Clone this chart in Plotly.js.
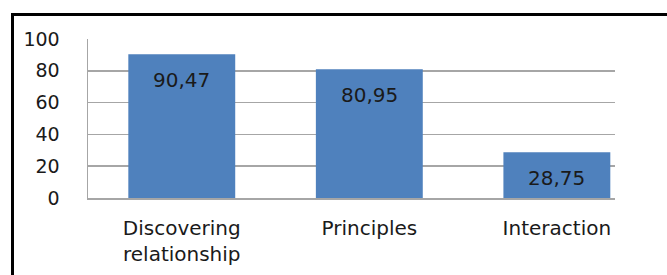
<!DOCTYPE html>
<html><head><meta charset="utf-8">
<script src="https://cdn.plot.ly/plotly-3.0.1.min.js"></script>
<style>
html,body{margin:0;padding:0;background:#fff;}
#chart{position:absolute;left:0;top:0;width:667px;height:275px;}
#frame{position:absolute;left:11px;top:13px;width:656px;height:262px;border-left:3px solid #000;border-top:3px solid #000;pointer-events:none;}
</style></head>
<body>
<div id="chart"></div>
<div id="frame"></div>
<script>
const categories = ["Discovering<br>relationship", "Principles", "Interaction"];
const values = [90.47, 80.95, 28.75];
const valueLabels = ["90,47", "80,95", "28,75"];
const yTicks = [0, 20, 40, 60, 80, 100];

const fontFam = "DejaVu Sans, sans-serif";
const trace = {
  type: "bar",
  x: [0, 1, 2],
  y: values,
  width: 0.57,
  marker: {color: "#4F81BD", line: {width: 0}},
  hoverinfo: "none"
};
const annotations = values.map((v, i) => ({
  x: i, y: v, xref: "x", yref: "y",
  text: valueLabels[i], showarrow: false,
  yanchor: "top", yshift: -12,
  font: {family: fontFam, size: 20, color: "#1a1a1a"}
}));
const layout = {
  width: 667, height: 275,
  margin: {l: 88, r: 52, t: 39, b: 77, pad: 0},
  paper_bgcolor: "#ffffff",
  plot_bgcolor: "#ffffff",
  showlegend: false,
  font: {family: fontFam, size: 20, color: "#1a1a1a"},
  xaxis: {
    range: [-0.5, 2.31],
    tickmode: "array", tickvals: [0, 1, 2], ticktext: categories,
    showgrid: false, zeroline: false,
    showline: true, linecolor: "#a6a6a6", linewidth: 1.5,
    ticks: "", ticklabelstandoff: 11,
    tickfont: {family: fontFam, size: 20, color: "#1a1a1a"}
  },
  yaxis: {
    range: [0, 100],
    tickmode: "array", tickvals: yTicks,
    showgrid: true, gridcolor: "#a6a6a6", gridwidth: 1.5,
    zeroline: false,
    showline: true, linecolor: "#a6a6a6", linewidth: 1.5,
    ticks: "", ticklabelstandoff: 23,
    tickfont: {family: fontFam, size: 19, color: "#1a1a1a"}
  },
  annotations: annotations
};
Plotly.newPlot("chart", [trace], layout, {displayModeBar: false, staticPlot: true});
</script>
</body></html>
